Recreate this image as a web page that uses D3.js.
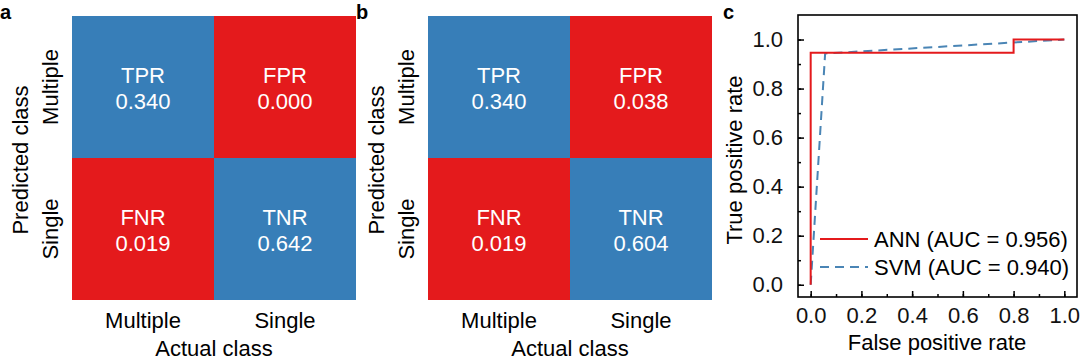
<!DOCTYPE html>
<html>
<head>
<meta charset="utf-8">
<script src="https://cdn.jsdelivr.net/npm/d3@7"></script>
<style>
  body { margin: 0; background: #fff; }
  svg text { font-family: "Liberation Sans", Arial, sans-serif; }
</style>
</head>
<body>
<script>
// Donnees
const classes = ['Multiple', 'Single']
const cellNames = ['TPR', 'FPR', 'FNR', 'TNR']
const valuesA = [0.340, 0.000, 0.019, 0.642]
const valuesB = [0.340, 0.038, 0.019, 0.604]

const annFpr = [0, 0, 0.8, 0.8, 1]
const annTpr = [0, 0.946, 0.946, 1, 1]
const svmFpr = [0, 0.057, 1]
const svmTpr = [0, 0.943, 1]
const legendLabels = ['ANN (AUC = 0.956)', 'SVM (AUC = 0.940)']
const rocTicks = [0, 0.2, 0.4, 0.6, 0.8, 1.0]

const blue = '#377eb8'
const red = '#e41a1c'
const fs = 22

let svg = d3.select('body')
    .append('svg')
    .attr('width', 1080)
    .attr('height', 362)

// Matrices de confusion
function drawMatrix(x0, values, letter) {
    let g = svg.append('g')
    let x = d3.scaleBand().domain(classes).range([x0, x0 + 284])
    let y = d3.scaleBand().domain(classes).range([16, 300])

    let cells = cellNames.map((n, i) => ({
        name: n,
        value: values[i],
        actual: classes[i % 2],
        predicted: classes[Math.floor(i / 2)]
    }))

    g.selectAll('rect')
        .data(cells)
        .enter()
        .append('rect')
        .attr('x', d => x(d.actual))
        .attr('y', d => y(d.predicted))
        .attr('width', x.bandwidth())
        .attr('height', y.bandwidth())
        .attr('fill', d => d.actual == d.predicted ? blue : red)

    let t = g.selectAll('.cell')
        .data(cells)
        .enter()
        .append('text')
        .attr('text-anchor', 'middle')
        .attr('fill', '#fff')
        .attr('font-size', fs)
    t.append('tspan')
        .attr('x', d => x(d.actual) + x.bandwidth() / 2)
        .attr('y', d => y(d.predicted) + y.bandwidth() / 2 - 4)
        .text(d => d.name)
    t.append('tspan')
        .attr('x', d => x(d.actual) + x.bandwidth() / 2)
        .attr('y', d => y(d.predicted) + y.bandwidth() / 2 + 22)
        .text(d => d.value.toFixed(3))

    // labels axes
    g.selectAll('.xl')
        .data(classes)
        .enter()
        .append('text')
        .attr('x', d => x(d) + x.bandwidth() / 2)
        .attr('y', 328)
        .attr('text-anchor', 'middle')
        .attr('font-size', fs)
        .text(d => d)
    g.selectAll('.yl')
        .data(classes)
        .enter()
        .append('text')
        .attr('transform', d => `translate(${x0 - 14},${y(d) + y.bandwidth() / 2}) rotate(-90)`)
        .attr('text-anchor', 'middle')
        .attr('font-size', fs)
        .text(d => d)
    g.append('text')
        .attr('x', x0 + 142)
        .attr('y', 356)
        .attr('text-anchor', 'middle')
        .attr('font-size', fs)
        .text('Actual class')
    g.append('text')
        .attr('transform', `translate(${x0 - 44},160) rotate(-90)`)
        .attr('text-anchor', 'middle')
        .attr('font-size', fs)
        .text('Predicted class')
    g.append('text')
        .attr('x', x0 - 72)
        .attr('y', 19)
        .attr('font-size', 20)
        .attr('font-weight', 'bold')
        .text(letter)
}

drawMatrix(72, valuesA, 'a')
drawMatrix(428, valuesB, 'b')

// Courbe ROC
let gc = svg.append('g')
let xs = d3.scaleLinear().domain([-0.05, 1.05]).range([798, 1077])
let ys = d3.scaleLinear().domain([-0.05, 1.1]).range([297, 15])

gc.append('rect')
    .attr('x', 798).attr('y', 15)
    .attr('width', 1077 - 798).attr('height', 297 - 15)
    .attr('fill', 'none').attr('stroke', '#000').attr('stroke-width', 1.6)

let minor = d3.range(0, 1.01, 0.1)
gc.append('g')
    .attr('transform', 'translate(0,297)')
    .call(d3.axisBottom(xs).tickValues(minor).tickSize(-3).tickFormat(''))
gc.append('g')
    .attr('transform', 'translate(0,297)')
    .call(d3.axisBottom(xs).tickValues(rocTicks).tickSize(-6).tickPadding(10).tickFormat(d3.format('.1f')))
gc.append('g')
    .attr('transform', 'translate(798,0)')
    .call(d3.axisLeft(ys).tickValues(minor).tickSize(-3).tickFormat(''))
gc.append('g')
    .attr('transform', 'translate(798,0)')
    .call(d3.axisLeft(ys).tickValues(rocTicks).tickSize(-6).tickPadding(15).tickFormat(d3.format('.1f')))

gc.selectAll('.domain').remove()
gc.selectAll('.tick line').attr('stroke', '#000').attr('stroke-width', 1.5)
gc.selectAll('.tick text')
    .attr('font-size', fs)
    .attr('fill', '#111')
    .style('font-family', '"Liberation Sans", Arial, sans-serif')

let line = d3.line().x(d => xs(d[0])).y(d => ys(d[1]))
gc.append('path')
    .datum(svmFpr.map((v, i) => [v, svmTpr[i]]))
    .attr('d', line)
    .attr('fill', 'none')
    .attr('stroke', '#4a85b5')
    .attr('stroke-width', 2)
    .attr('stroke-dasharray', '9,6')
gc.append('path')
    .datum(annFpr.map((v, i) => [v, annTpr[i]]))
    .attr('d', line)
    .attr('fill', 'none')
    .attr('stroke', red)
    .attr('stroke-width', 2)

// Legende
let leg = gc.selectAll('.leg')
    .data(legendLabels)
    .enter()
    .append('g')
    .attr('transform', (d, i) => `translate(820,${239 + i * 28})`)
leg.append('line')
    .attr('x1', 0).attr('x2', 48)
    .attr('stroke', (d, i) => i == 0 ? red : '#4a85b5')
    .attr('stroke-width', 2)
    .attr('stroke-dasharray', (d, i) => i == 0 ? null : '9,6')
leg.append('text')
    .attr('x', 54)
    .attr('y', 8)
    .attr('font-size', fs)
    .text(d => d)

gc.append('text')
    .attr('transform', 'translate(742,160) rotate(-90)')
    .attr('text-anchor', 'middle')
    .attr('font-size', fs)
    .text('True positive rate')
gc.append('text')
    .attr('x', 937)
    .attr('y', 350)
    .attr('text-anchor', 'middle')
    .attr('font-size', fs)
    .text('False positive rate')
gc.append('text')
    .attr('x', 723)
    .attr('y', 19)
    .attr('font-size', 20)
    .attr('font-weight', 'bold')
    .text('c')
</script>
</body>
</html>
